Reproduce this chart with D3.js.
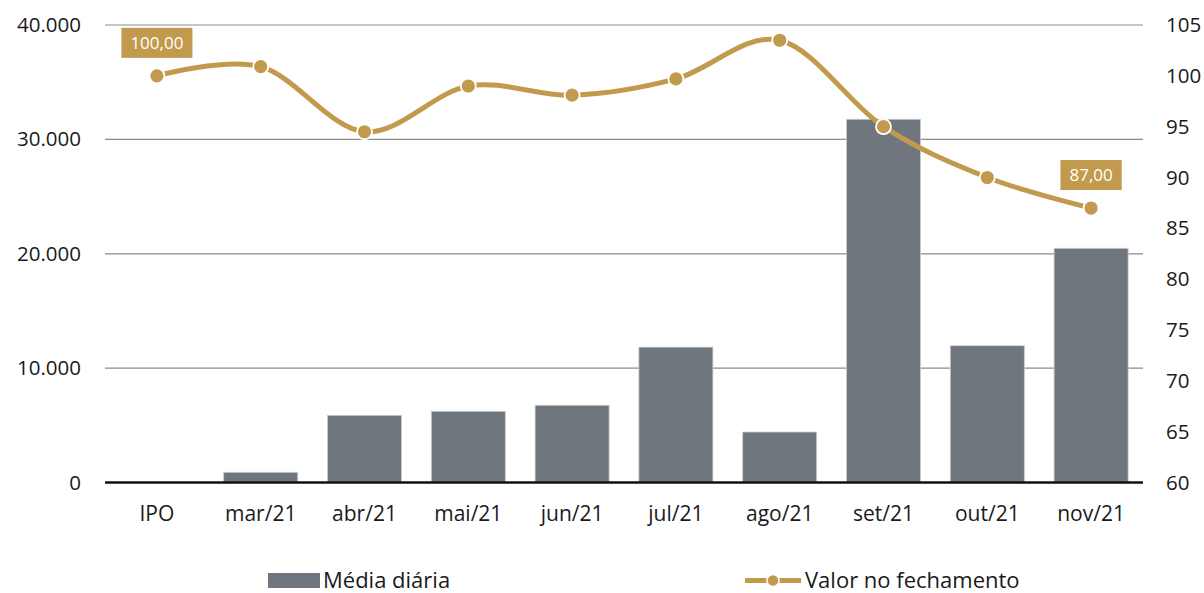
<!DOCTYPE html>
<html>
<head>
<meta charset="utf-8">
<script src="https://cdn.jsdelivr.net/npm/d3@7"></script>
<style>
  body { margin: 0; background: #fff; }
  svg { display: block; font-family: "Open Sans", sans-serif; }
</style>
</head>
<body>
<svg id="chart" width="1204" height="593"></svg>
<script>
// data
const categories = ['IPO', 'mar/21', 'abr/21', 'mai/21', 'jun/21', 'jul/21', 'ago/21', 'set/21', 'out/21', 'nov/21'];
const mediaDiaria = [0, 900, 5880, 6230, 6760, 11840, 4420, 31760, 11960, 20480];
const valorFechamento = [100, 100.9, 94.5, 99.0, 98.1, 99.7, 103.5, 95.0, 90.0, 87.0];
const leftTicks = [0, 10000, 20000, 30000, 40000];
const rightTicks = [60, 65, 70, 75, 80, 85, 90, 95, 100, 105];
const labelled = [0, 9]; // points that carry a value box

const gold = '#c29a4e';
const grey = '#6f767d';

const ptBR = d3.formatLocale({ decimal: ',', thousands: '.', grouping: [3], currency: ['', ''] });
const fmtInt = ptBR.format(',.0f');
const fmtDec = ptBR.format(',.2f');

const svg = d3.select('#chart');

const x = d3.scaleBand()
  .domain(categories)
  .range([105, 1143])
  .paddingInner(0.287)
  .paddingOuter(0.1435);

const yL = d3.scaleLinear().domain([0, 40000]).range([482.6, 25]);
const yR = d3.scaleLinear().domain([60, 105]).range([482.6, 25]);

// gridlines
svg.append('g')
  .selectAll('line')
  .data(leftTicks.slice(1))
  .enter()
  .append('line')
  .attr('x1', 105)
  .attr('x2', 1143)
  .attr('y1', d => yL(d))
  .attr('y2', d => yL(d))
  .attr('stroke', '#8c8c8c')
  .attr('stroke-width', 1.2);

// bars
svg.append('g')
  .selectAll('rect')
  .data(mediaDiaria)
  .enter()
  .append('rect')
  .attr('x', (d, i) => x(categories[i]))
  .attr('width', x.bandwidth())
  .attr('y', d => yL(d))
  .attr('height', d => yL(0) - yL(d))
  .attr('fill', grey)
  .attr('stroke', '#c9ccd0')
  .attr('stroke-width', 0.8);

// baseline
svg.append('line')
  .attr('x1', 105)
  .attr('x2', 1143)
  .attr('y1', yL(0))
  .attr('y2', yL(0))
  .attr('stroke', '#111')
  .attr('stroke-width', 2.5);

// left axis labels
const leftAxis = svg.append('g')
  .attr('transform', 'translate(81,0)')
  .call(d3.axisLeft(yL).tickValues(leftTicks).tickFormat(fmtInt).tickSize(0).tickPadding(0));
leftAxis.select('.domain').remove();
leftAxis.selectAll('text')
  .attr('font-size', '20.5px')
  .attr('font-family', '"Open Sans", sans-serif')
  .attr('fill', '#1a1a1a');

// right axis labels
const rightAxis = svg.append('g')
  .attr('transform', 'translate(1166,0)')
  .call(d3.axisRight(yR).tickValues(rightTicks).tickSize(0).tickPadding(0));
rightAxis.select('.domain').remove();
rightAxis.selectAll('text')
  .attr('font-size', '20.5px')
  .attr('font-family', '"Open Sans", sans-serif')
  .attr('fill', '#1a1a1a');

// category labels
const xAxis = svg.append('g')
  .attr('transform', 'translate(0,' + 500 + ')')
  .call(d3.axisBottom(x).tickSize(0).tickPadding(0));
xAxis.select('.domain').remove();
xAxis.selectAll('text')
  .attr('font-size', '21px')
  .attr('font-family', '"Open Sans", sans-serif')
  .attr('fill', '#1a1a1a')
  .attr('dy', '1.0em');

// line
const cx = (d, i) => x(categories[i]) + x.bandwidth() / 2;
const line = d3.line()
  .x(cx)
  .y(d => yR(d))
  .curve(d3.curveCardinal.tension(0));

svg.append('path')
  .datum(valorFechamento)
  .attr('d', line)
  .attr('fill', 'none')
  .attr('stroke', gold)
  .attr('stroke-width', 5);

svg.append('g')
  .selectAll('circle')
  .data(valorFechamento)
  .enter()
  .append('circle')
  .attr('cx', cx)
  .attr('cy', d => yR(d))
  .attr('r', 7.5)
  .attr('fill', gold)
  .attr('stroke', '#fff')
  .attr('stroke-width', 1.8);

// value boxes
const boxes = svg.append('g')
  .selectAll('g')
  .data(labelled)
  .enter()
  .append('g')
  .attr('transform', i => `translate(${cx(valorFechamento[i], i)},${yR(valorFechamento[i]) - 33})`);

boxes.append('text')
  .attr('text-anchor', 'middle')
  .attr('y', 0)
  .attr('font-size', '17px')
  .attr('fill', '#fff')
  .text(i => fmtDec(valorFechamento[i]))
  .each(function () {
    const b = this.getBBox();
    d3.select(this.parentNode).insert('rect', 'text')
      .attr('x', b.x - 9)
      .attr('y', -15)
      .attr('width', b.width + 18)
      .attr('height', 30)
      .attr('fill', gold);
  })
  .attr('dy', '0.35em');

// legend
const legend = svg.append('g').attr('font-size', '22px').attr('fill', '#1a1a1a');
legend.append('rect')
  .attr('x', 268).attr('y', 573)
  .attr('width', 52).attr('height', 15)
  .attr('fill', grey);
legend.append('text')
  .attr('x', 323).attr('y', 588)
  .text('Média diária');
legend.append('line')
  .attr('x1', 745).attr('x2', 801)
  .attr('y1', 580.5).attr('y2', 580.5)
  .attr('stroke', gold).attr('stroke-width', 5);
legend.append('circle')
  .attr('cx', 773).attr('cy', 580.5).attr('r', 6)
  .attr('fill', gold).attr('stroke', '#fff').attr('stroke-width', 1.5);
legend.append('text')
  .attr('x', 805).attr('y', 588)
  .text('Valor no fechamento');
</script>
</body>
</html>
